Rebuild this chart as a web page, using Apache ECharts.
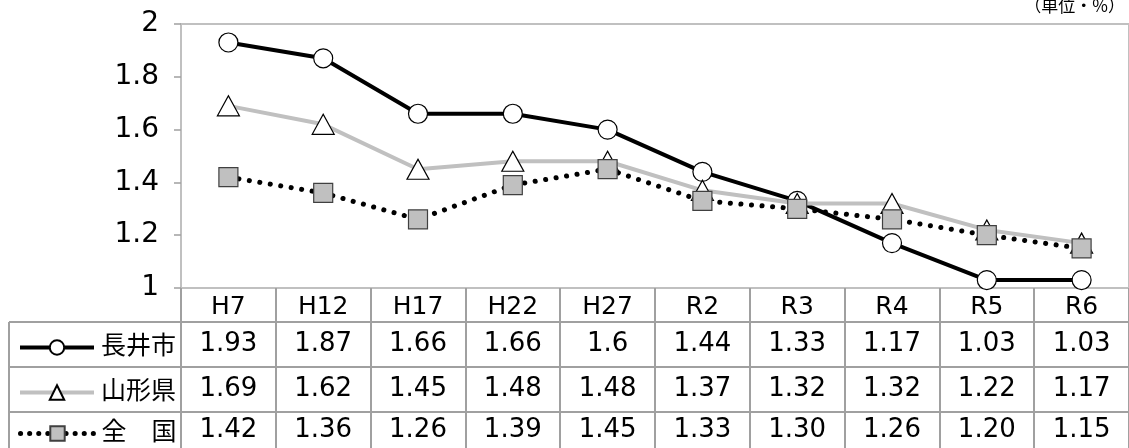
<!DOCTYPE html>
<html><head><meta charset="utf-8">
<script src="https://cdn.jsdelivr.net/npm/echarts@6/dist/echarts.min.js"></script>
<style>html,body{margin:0;padding:0;background:#fff}#c{width:1129px;height:448px}</style>
</head><body><div id="c"></div>
<script>
const categories = ['H7','H12','H17','H22','H27','R2','R3','R4','R5','R6'];
const nagai = [1.93,1.87,1.66,1.66,1.6,1.44,1.33,1.17,1.03,1.03];
const yamagata = [1.69,1.62,1.45,1.48,1.48,1.37,1.32,1.32,1.22,1.17];
const national = [1.42,1.36,1.26,1.39,1.45,1.33,1.30,1.26,1.20,1.15];
const nationalDecimals = 2;
const names = ['長井市','山形県','全　国'];
const yTicks = {min:1, max:2, interval:0.2};
const unitText = '（単位・%）';

const FONT = '"DejaVu Sans", "Noto Sans CJK JP", sans-serif';
const GRID_TOP = 24, AXIS_Y = 288;
const rowMargins = [43, 88, 129];
const rowFmt = [v => String(v), v => String(v), v => v.toFixed(nationalDecimals)];
const rowData = [nagai, yamagata, national];

const chart = echarts.init(document.getElementById('c'), null, {renderer:'canvas'});

const valueAxes = rowData.map((arr, r) => ({
  type:'category', gridIndex:0, position:'bottom', data:categories,
  axisLine:{show:false}, axisTick:{show:false}, splitLine:{show:false},
  axisLabel:{interval:0, margin:rowMargins[r], fontSize:26, lineHeight:26, color:'#000', fontFamily:FONT,
    formatter:(v, i) => rowFmt[r](arr[i])}
}));

const legendLine = [
  {color:'#000', width:4},
  {color:'#c0c0c0', width:4},
  {color:'#000', width:5, type:[0.1,9], cap:'round'}
];
const legends = names.map((n, r) => ({
  data:[n], orient:'vertical', left:13, top: AXIS_Y + rowMargins[r] - 1,
  itemWidth:74, itemHeight:18, itemGap:0, selectedMode:false,
  lineStyle: legendLine[r],
  textStyle:{fontSize:25, color:'#000', fontFamily:FONT, padding:[0,0,0,2]}
}));

const hLines = [322, 367, 412].map(y => ({
  type:'line', shape:{x1:9, y1:y, x2:1129, y2:y}, style:{stroke:'#a0a0a0', lineWidth:2}, silent:true
}));

chart.setOption({
  animation:false,
  backgroundColor:'#fff',
  grid:{left:181, right:-10, top:GRID_TOP, bottom:448-AXIS_Y, show:true, borderColor:'#c0c0c0', borderWidth:2},
  legend: legends,
  xAxis:[{
    type:'category', data:categories, gridIndex:0, position:'bottom',
    axisLine:{show:false},
    axisTick:{show:true, length:162, lineStyle:{color:'#a0a0a0', width:2}},
    axisLabel:{interval:0, margin:6, fontSize:25, lineHeight:26, color:'#000', fontFamily:FONT},
    splitLine:{show:false}
  }].concat(valueAxes),
  yAxis:{
    type:'value', min:yTicks.min, max:yTicks.max, interval:yTicks.interval,
    axisLine:{show:false},
    axisTick:{show:true, length:7, lineStyle:{color:'#a0a0a0', width:1.5}},
    axisLabel:{fontSize:28, color:'#000', fontFamily:FONT, margin:22, formatter:v => String(+v.toFixed(1))},
    splitLine:{show:false}
  },
  graphic: hLines.concat([
    {type:'line', shape:{x1:9, y1:322, x2:9, y2:448}, style:{stroke:'#a0a0a0', lineWidth:2}, silent:true},
    {type:'text', right:4, top:-3, style:{text:unitText, fontSize:17, fill:'#000', fontFamily:'"Noto Sans CJK JP", sans-serif'}}
  ]),
  series:[
    {name:names[0], type:'line', data:nagai, symbol:'circle', symbolSize:19,
     lineStyle:{color:'#000', width:4}, itemStyle:{color:'#fff', borderColor:'#000', borderWidth:1.2}, z:2},
    {name:names[1], type:'line', data:yamagata, symbol:'triangle', symbolSize:[22,20],
     lineStyle:{color:'#c0c0c0', width:4}, itemStyle:{color:'#fff', borderColor:'#000', borderWidth:1.2}, z:3},
    {name:names[2], type:'line', data:national, symbol:'rect', symbolSize:19,
     lineStyle:{color:'#000', width:5, type:[0.1,10.5], cap:'round'}, itemStyle:{color:'#c0c0c0', borderColor:'#404040', borderWidth:1.2}, z:4}
  ]
});
</script></body></html>
